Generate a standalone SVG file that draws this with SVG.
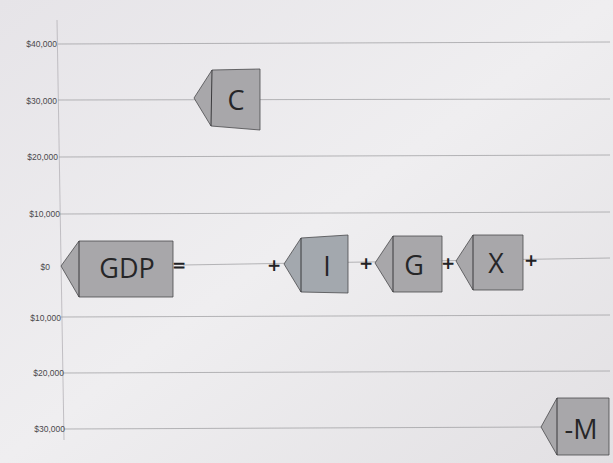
<svg xmlns="http://www.w3.org/2000/svg" width="613" height="463" viewBox="0 0 613 463">
<defs>
<linearGradient id="paper" x1="0" y1="0" x2="1" y2="1">
<stop offset="0" stop-color="#e6e4e8"/>
<stop offset="0.5" stop-color="#efeef0"/>
<stop offset="1" stop-color="#e2e0e3"/>
</linearGradient>
<style>
.grid{stroke:#9a999c;stroke-width:0.7;fill:none}
.axis{stroke:#b5b3b7;stroke-width:0.8;fill:none}
.lbl{font-family:"Liberation Sans",Arial,sans-serif;font-size:8.5px;fill:#4a494c;text-anchor:end}
.card{fill:#a8a7aa;stroke:#4a4a4c;stroke-width:0.8}
.div{stroke:#2e2e30;stroke-width:0.9}
.big{font-family:"Open Sans","Liberation Sans",sans-serif;font-size:27px;fill:#262628;text-anchor:middle;dominant-baseline:central}
.op{font-family:"DejaVu Sans","Liberation Sans",sans-serif;font-size:17px;fill:#222224;text-anchor:middle;font-weight:bold;text-rendering:geometricPrecision}
</style>
</defs>
<rect width="613" height="463" fill="url(#paper)"/>
<g id="chart">
<line class="axis" x1="57" y1="20" x2="64" y2="440"/>
<line class="grid" x1="58" y1="44" x2="610" y2="42"/>
<line class="grid" x1="58" y1="100" x2="610" y2="99"/>
<line class="grid" x1="59" y1="157" x2="610" y2="155"/>
<line class="grid" x1="60" y1="214" x2="610" y2="212"/>
<line class="grid" x1="183" y1="265" x2="610" y2="258"/>
<line class="grid" x1="61" y1="317" x2="610" y2="315"/>
<line class="grid" x1="63" y1="373" x2="610" y2="371"/>
<line class="grid" x1="64" y1="429" x2="545" y2="427"/>
<text class="lbl" x="57" y="47">$40,000</text>
<text class="lbl" x="57" y="104">$30,000</text>
<text class="lbl" x="58" y="160">$20,000</text>
<text class="lbl" x="60" y="217">$10,000</text>
<text class="lbl" x="50" y="270">$0</text>
<text class="lbl" x="61" y="321">$10,000</text>
<text class="lbl" x="64" y="376">$20,000</text>
<text class="lbl" x="65" y="432">$30,000</text>
</g>
<g id="node-C">
<polygon class="card" points="194,98 212,70 260,69 260,130 211,126"/>
<line class="div" x1="212" y1="70" x2="211" y2="126"/>
<text class="big" x="236" y="99">C</text>
</g>
<g id="node-GDP">
<polygon class="card" points="61,266 79,241 173,241 173,297 79,297"/>
<line class="div" x1="79" y1="241" x2="79" y2="297"/>
<text class="big" x="127" y="267">GDP</text>
<text class="op" x="179" y="271">=</text>
</g>
<g id="node-I">
<text class="op" x="274" y="271">+</text>
<polygon class="card" points="284,264 301,238 348,235 348,293 301,292" style="fill:#a3a8ae"/>
<line class="div" x1="301" y1="238" x2="301" y2="292"/>
<text class="big" x="327" y="265">I</text>
</g>
<g id="node-G">
<text class="op" x="366" y="269">+</text>
<polygon class="card" points="375,263 393,236 442,236 442,292 393,292"/>
<line class="div" x1="393" y1="236" x2="393" y2="292"/>
<text class="big" x="414" y="264">G</text>
</g>
<g id="node-X">
<text class="op" x="448" y="269">+</text>
<polygon class="card" points="456,261 473,235 523,235 523,290 473,290"/>
<line class="div" x1="473" y1="235" x2="473" y2="290"/>
<text class="big" x="496" y="262">X</text>
<text class="op" x="531" y="266">+</text>
</g>
<g id="node-M">
<polygon class="card" points="541,427 557,398 609,398 609,455 557,455"/>
<line class="div" x1="557" y1="398" x2="557" y2="455"/>
<text class="big" x="581" y="428">-M</text>
</g>
<g id="connectors"/>
</svg>
